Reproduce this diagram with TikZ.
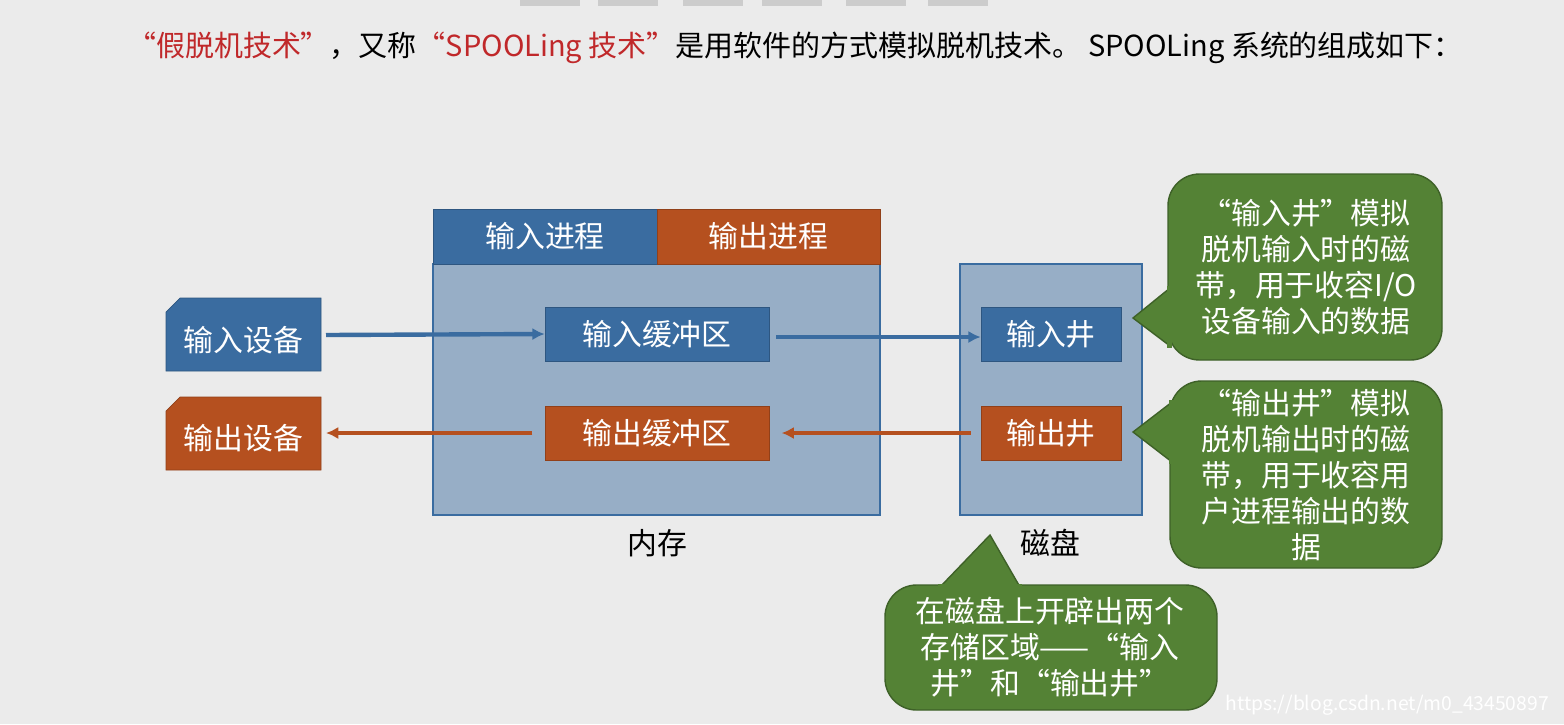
\documentclass[tikz,border=0pt]{standalone}
\usepackage{fontspec}
\setmainfont{Noto Sans CJK SC}
\usetikzlibrary{arrows.meta}
\definecolor{bg}{HTML}{EBEBEB}
\definecolor{inblue}{HTML}{3A6CA0}
\definecolor{outred}{HTML}{B5501F}
\definecolor{memfill}{HTML}{97AEC6}
\definecolor{tipgreen}{HTML}{548235}
\definecolor{tipline}{HTML}{3E6128}
\definecolor{titlered}{HTML}{C0282A}
\tikzset{
  inbox/.style={draw=inblue!80!black,fill=inblue,text=white,font=\fontsize{17}{20}\selectfont,inner sep=0pt},
  outbox/.style={draw=outred!80!black,fill=outred,text=white,font=\fontsize{17}{20}\selectfont,inner sep=0pt},
  area/.style={draw=inblue,fill=memfill,line width=0.8pt},
  tip/.style={draw=tipline,fill=tipgreen,line width=0.8pt},
  tiptext/.style={text=white,align=center,font=\fontsize{17}{20.5}\selectfont},
  inarrow/.style={draw=inblue,line width=2.5pt,-{Latex[length=7pt,width=7pt]}},
  outarrow/.style={draw=outred,line width=2.5pt,-{Latex[length=7pt,width=7pt]}}
}
\begin{document}
\begin{tikzpicture}[x=0.02cm,y=-0.02cm]
  \fill[bg] (0,0) rectangle (1564,724);
  \foreach \xa in {520,598,683,762,846,928}
    \fill[gray!40] (\xa,0) rectangle ++(60,6);
  % title
  \node (title) at (795,48) {\fontsize{16.5}{20}\selectfont\textcolor{titlered}{\textit{“假}脱机技术”}，又称\textcolor{titlered}{“SPOOLing 技术”}是用软件的方式模拟脱机技术。 SPOOLing 系统的组成如下：};
  % memory
  \draw[area] (433,264) rectangle (880,515);
  \node[inbox,minimum width={224*0.02cm},minimum height={55*0.02cm}] (inproc) at (545,236.5) {输入进程};
  \node[outbox,minimum width={223*0.02cm},minimum height={55*0.02cm}] (outproc) at (768.5,236.5) {输出进程};
  \node[inbox,minimum width={224*0.02cm},minimum height={54*0.02cm}] (inbuf) at (657,334) {输入缓冲区};
  \node[outbox,minimum width={224*0.02cm},minimum height={54*0.02cm}] (outbuf) at (657,433) {输出缓冲区};
  \node[font=\fontsize{17}{20}\selectfont] (mem) at (657,543) {内存};
  % disk
  \draw[area] (960,264) rectangle (1142,515);
  \node[inbox,minimum width={140*0.02cm},minimum height={54*0.02cm}] (inwell) at (1051,334) {输入井};
  \node[outbox,minimum width={140*0.02cm},minimum height={54*0.02cm}] (outwell) at (1051,433) {输出井};
  \node[font=\fontsize{17}{20}\selectfont] (disk) at (1050,543) {磁盘};
  % devices
  \filldraw[draw=inblue!80!black,fill=inblue] (180,298) -- (321,298) -- (321,371) -- (166,371) -- (166,312) -- cycle;
  \node[text=white,font=\fontsize{17}{20}\selectfont] (indev) at (243.5,340) {输入设备};
  \filldraw[draw=outred!80!black,fill=outred] (180,397) -- (321,397) -- (321,470) -- (166,470) -- (166,411) -- cycle;
  \node[text=white,font=\fontsize{17}{20}\selectfont] (outdev) at (243.5,438) {输出设备};
  \coordinate (indevE) at (326,335);
  \coordinate (outdevE) at (326,433);
  % arrows
  \draw[inarrow] (indevE) -- (inbuf.west);
  \draw[inarrow] (inbuf.east) ++(7,3) -- (inwell.west |- 0,337);
  \draw[outarrow] (outwell.west) ++(-10,0) -- ([xshift=7pt]outbuf.east);
  \draw[outarrow] ([xshift=-7pt]outbuf.west) -- (outdevE);
  % callouts
  \draw[tip,rounded corners=18pt] (1168,174) rectangle (1442,360);
  \filldraw[tip] (1170,288) -- (1133,318) -- (1170,346);
  \fill[tipgreen] (1167,286) rectangle (1172,348);
  \node[tiptext] (tipin) at (1306,267) {“输入井”模拟\\脱机输入时的磁\\带，用于收容I/O\\设备输入的数据};
  \draw[tip,rounded corners=18pt] (1170,381) rectangle (1442,568);
  \filldraw[tip] (1172,402) -- (1133,432) -- (1172,462);
  \fill[tipgreen] (1169,400) rectangle (1174,464);
  \node[tiptext] (tipout) at (1306,475) {“输出井”模拟\\脱机输出时的磁\\带，用于收容用\\户进程输出的数\\据};
  \draw[tip,rounded corners=18pt] (885,585) rectangle (1217,710);
  \filldraw[tip] (940,587) -- (990,535) -- (1020,587);
  \fill[tipgreen] (938,584) rectangle (1022,590);
  \node[tiptext] (tipdisk) at (1050,647) {在磁盘上开辟出两个\\存储区域——“输入\\井”和“输出井”};
  \node[text=white,font=\fontsize{11}{12}\selectfont,anchor=east] (mark) at (1555,705) {https://blog.csdn.net/m0\_43450897};
\end{tikzpicture}
\end{document}
